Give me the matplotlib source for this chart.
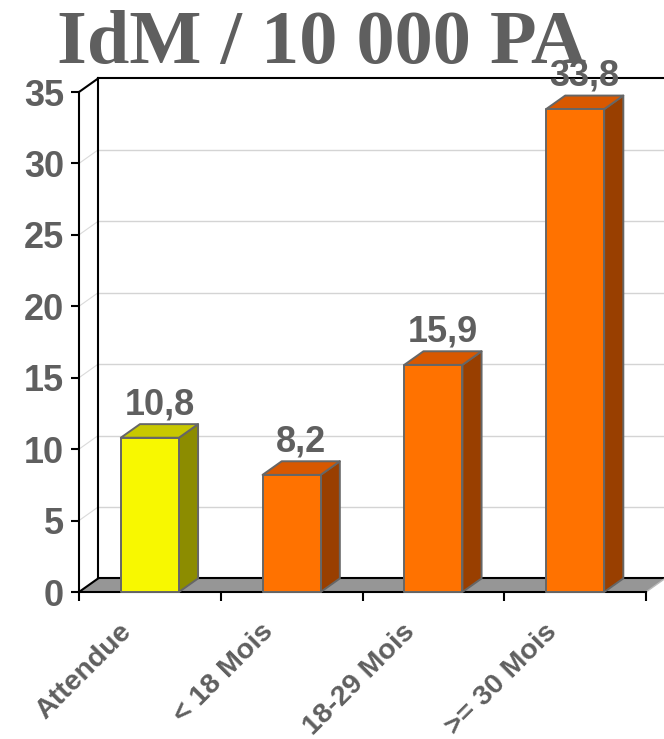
import matplotlib
matplotlib.use("Agg")
import matplotlib.pyplot as plt
from matplotlib.patches import Polygon

# data
categories = ["Attendue", "< 18 Mois", "18-29 Mois", ">= 30 Mois"]
values = [10.8, 8.2, 15.9, 33.8]
value_labels = ["10,8", "8,2", "15,9", "33,8"]
yticks = [0, 5, 10, 15, 20, 25, 30, 35]

# face colours: (front, top, side)
yellow = ("#F8F800", "#C8C800", "#8C8C00")
orange = ("#FF7200", "#D85800", "#993F00")
bar_colors = [yellow, orange, orange, orange]

TEXT = "#5F5F5F"
EDGE = "#666666"
YMAX = 35
NCAT = len(categories)
DX, DY = 0.135, 0.95   # depth offset in data units
BAR_W = 0.41

plt.rcParams["font.family"] = ["Liberation Sans", "DejaVu Sans"]

fig = plt.figure(figsize=(6.64, 7.39), dpi=100)
ax = fig.add_axes([79 / 664, 147 / 739, 567 / 664, 500 / 739])
ax.set_xlim(0, NCAT)
ax.set_ylim(0, YMAX)
for side in ["top", "right", "bottom"]:
    ax.spines[side].set_visible(False)
ax.spines["left"].set_linewidth(1.5)
ax.spines["left"].set_zorder(6)
ax.patch.set_visible(False)

# back wall and side wall
ax.add_patch(Polygon([(DX, DY), (NCAT + DX, DY), (NCAT + DX, YMAX + DY), (DX, YMAX + DY)],
                     closed=True, facecolor="white", edgecolor="none", zorder=0, clip_on=False))
for v in yticks[1:-1]:
    ax.plot([DX, NCAT + DX], [v + DY, v + DY], color="#D4D4D4", lw=1, zorder=1, clip_on=False)
    ax.plot([0, DX], [v, v + DY], color="#DADADA", lw=0.8, zorder=1, clip_on=False)
ax.plot([DX, DX], [DY, YMAX + DY], color="black", lw=1.5, zorder=2, clip_on=False)
ax.plot([DX, NCAT + DX + 0.1], [YMAX + DY, YMAX + DY], color="black", lw=1.5, zorder=2, clip_on=False)
ax.plot([0, DX], [YMAX, YMAX + DY], color="black", lw=1.5, zorder=2, clip_on=False)

# floor
ax.add_patch(Polygon([(0, 0), (NCAT, 0), (NCAT + DX, DY), (DX, DY)],
                     closed=True, facecolor="#969696", edgecolor="none", zorder=2, clip_on=False))
ax.plot([DX, NCAT + DX], [DY, DY], color="black", lw=1.5, zorder=3, clip_on=False)
ax.plot([0, DX], [0, DY], color="black", lw=1.5, zorder=3, clip_on=False)
ax.plot([NCAT, NCAT + DX], [0, DY], color="#BBBBBB", lw=1, zorder=3, clip_on=False)
ax.plot([0, NCAT], [0, 0], color="black", lw=1.5, zorder=3, clip_on=False)

# 3D bars
for i, (v, (front, top, side)) in enumerate(zip(values, bar_colors)):
    x0 = i + 0.5 - BAR_W / 2
    x1 = x0 + BAR_W
    kw = dict(closed=True, edgecolor=EDGE, lw=1.4, zorder=4, clip_on=False, joinstyle="round")
    ax.add_patch(Polygon([(x1, 0), (x1 + DX, DY), (x1 + DX, v + DY), (x1, v)], facecolor=side, **kw))
    ax.add_patch(Polygon([(x0, v), (x1, v), (x1 + DX, v + DY), (x0 + DX, v + DY)], facecolor=top, **kw))
    ax.add_patch(Polygon([(x0, 0), (x1, 0), (x1, v), (x0, v)], facecolor=front, **kw))
    ax.annotate(value_labels[i], xy=(i + 0.5 + DX / 2, v + DY), xytext=(0, 7),
                textcoords="offset points", ha="center", va="baseline",
                fontsize=26, fontweight="bold", color=TEXT, zorder=7, annotation_clip=False)
    ax.annotate(categories[i], xy=(i + 0.5, 0), xytext=(-16, -26),
                textcoords="offset points", ha="right", va="center",
                rotation=45, rotation_mode="anchor",
                fontsize=20.5, fontweight="bold", color=TEXT, annotation_clip=False)

# axis ticks
ax.set_yticks(yticks)
ax.set_yticklabels([str(t) for t in yticks])
ax.tick_params(axis="y", direction="out", length=5.8, width=1.5, color="black",
               pad=5, labelsize=26, labelcolor=TEXT)
for lab in ax.get_yticklabels():
    lab.set_fontweight("bold")
ax.set_xticks(range(NCAT + 1))
ax.set_xticklabels([])
ax.tick_params(axis="x", direction="out", length=6.5, width=1.5, color="black")

fig.text(322 / 664, 1 - 63 / 739, "IdM / 10 000 PA", ha="center", va="baseline",
         fontsize=55, fontweight="bold", color=TEXT,
         family=["Liberation Serif", "DejaVu Serif"])

fig.savefig("out.png", dpi=100)
